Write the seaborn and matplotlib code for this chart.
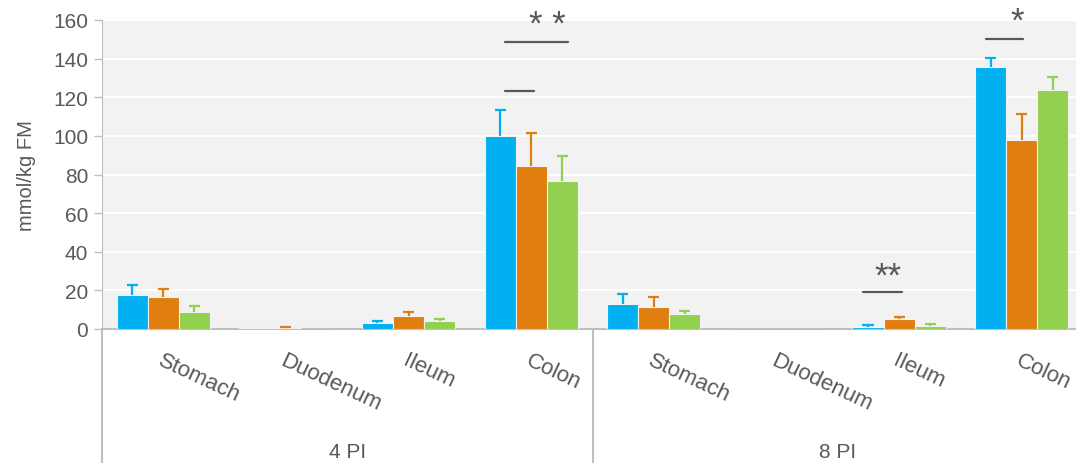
import matplotlib
matplotlib.use("Agg")
import matplotlib.pyplot as plt
import matplotlib.transforms as mtransforms
import pandas as pd
import seaborn as sns

sites = ["Stomach", "Duodenum", "Ileum", "Colon"]
time_points = ["4 PI", "8 PI"]
series = ["Series 1", "Series 2", "Series 3"]
colors = ["#00B0F0", "#E07F10", "#92D050"]

# means, order: 4 PI (Stomach..Colon) then 8 PI (Stomach..Colon)
means_s1 = [17.5, 0.3, 3.1, 100.0, 13.2, 0.0, 1.0, 135.7]
means_s2 = [16.6, 0.5, 6.7, 84.5, 11.4, 0.0, 5.2, 98.0]
means_s3 = [8.8, 0.2, 4.1, 76.4, 7.7, 0.0, 1.3, 123.9]
# upper error bars
err_s1 = [5.2, 0.0, 1.0, 13.3, 4.8, 0.0, 1.0, 4.7]
err_s2 = [4.1, 0.5, 2.1, 17.0, 5.1, 0.0, 1.2, 13.5]
err_s3 = [3.1, 0.0, 1.3, 13.4, 1.6, 0.0, 1.2, 6.7]

# significance lines: (category index, from series pos, to series pos, y)
sig_lines = [(3, 0.16, 1.1, 123.4), (3, 0.16, 2.17, 148.6),
             (7, -0.16, 1.05, 150.2), (6, -0.17, 1.1, 19.1)]
# significance labels: (category index, series pos, y, text)
sig_text = [(3, 1.52, 159.4, "* *"), (7, 0.85, 161.0, "*"), (6, 0.63, 29.2, "**")]

cats = [f"{t} {s}" for t in time_points for s in sites]
rows = []
for name, m in zip(series, [means_s1, means_s2, means_s3]):
    for c, v in zip(cats, m):
        rows.append({"cat": c, "series": name, "value": v})
df = pd.DataFrame(rows)

sns.set_style("white")
plt.rcParams["font.family"] = ["Liberation Sans", "DejaVu Sans"]
grey_txt = "#595959"
grey_line = "#BFBFBF"

fig = plt.figure(figsize=(10.76, 4.64), dpi=100)
ax = fig.add_axes([102 / 1076, 1 - 330 / 464, 981 / 1076, 309 / 464])
ax.set_facecolor("#F2F2F2")

width = 0.76
sns.barplot(data=df, x="cat", y="value", hue="series", order=cats,
            hue_order=series, palette=colors, width=width, errorbar=None,
            saturation=1, legend=False, linewidth=0.8, edgecolor="#F2F2F2",
            ax=ax, zorder=3)

bw = width / 3
cap = 0.045
for j, (m, e) in enumerate(zip([means_s1, means_s2, means_s3], [err_s1, err_s2, err_s3])):
    pts = [(i + (j - 1) * bw, v, v + d) for i, (v, d) in enumerate(zip(m, e)) if d > 0]
    xs = [p[0] for p in pts]
    lo = [p[1] for p in pts]
    tops = [p[2] for p in pts]
    ax.vlines(xs, lo, tops, color=colors[j], lw=1.6, zorder=4)
    ax.hlines(tops, [x - cap for x in xs], [x + cap for x in xs],
              color=colors[j], lw=1.6, zorder=4)

for i, a, b, y in sig_lines:
    x0 = i + (a - 1) * bw
    x1 = i + (b - 1) * bw
    ax.plot([x0, x1], [y, y], color=grey_txt, lw=1.6, zorder=5)
for i, pos, y, t in sig_text:
    ax.text(i + (pos - 1) * bw, y, t, ha="center", va="center_baseline",
            fontsize=25, color=grey_txt, clip_on=False, zorder=5)

ax.set_ylim(0, 160)
ax.set_xlim(-0.5, len(cats) - 0.5)
ax.set_yticks(range(0, 161, 20))
ax.yaxis.grid(True, color="white", lw=1.5)
ax.set_axisbelow(True)
ax.tick_params(axis="y", labelsize=15, labelcolor=grey_txt, color=grey_line,
               length=6, width=1, left=True, pad=4)
ax.set_ylabel("mmol/kg FM", fontsize=14.5, color=grey_txt, labelpad=12)
ax.set_xlabel("")
ax.set_xticks(range(len(cats)))
ax.set_xticklabels(sites * len(time_points), rotation=-25, ha="left",
                   va="top", rotation_mode="anchor", fontsize=16, color=grey_txt)
ax.tick_params(axis="x", length=0, pad=15)
for s in ["top", "right"]:
    ax.spines[s].set_visible(False)
ax.spines["bottom"].set_color(grey_line)
ax.spines["bottom"].set_linewidth(1.5)
ax.spines["left"].set_color(grey_line)

# group separators and group labels below the category labels
trans = mtransforms.blended_transform_factory(ax.transData, ax.transAxes)
n = len(sites)
for k in range(len(time_points) + 1):
    x = k * n - 0.5
    ax.plot([x, x], [0, -0.45], color=grey_line, lw=1.5, transform=trans,
            clip_on=False)
for k, t in enumerate(time_points):
    ax.text(k * n + (n - 1) / 2, -0.395, t, ha="center", va="center",
            fontsize=15, color=grey_txt, transform=trans)

fig.savefig("out.png", dpi=100)
